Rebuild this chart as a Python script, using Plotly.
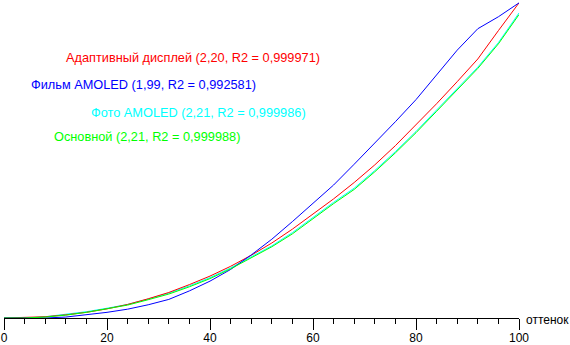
import plotly.graph_objects as go

levels = [0, 4, 8, 12, 16, 20, 24, 28, 32, 36, 40, 44, 48, 52, 56, 60, 64, 68, 72, 76, 80, 84, 88, 92, 96, 100]

adaptive = [0, 0.1, 0.4, 1.0, 1.8, 2.9, 4.3, 6.1, 8.1, 10.6, 13.3, 16.4, 19.9, 23.8, 28.2, 33.0, 37.8, 43.0, 48.6, 54.7, 61.2, 68.0, 75.0, 82.2, 91.2, 100]
film = [0, 0, 0, 0.3, 1.0, 1.8, 2.8, 4.2, 5.9, 8.6, 11.7, 15.4, 20.0, 25.0, 30.6, 36.4, 42.2, 48.8, 55.4, 62.3, 69.3, 77.1, 85.0, 91.8, 95.6, 100]
photo = [0, 0, 0.4, 1.1, 2.0, 3.1, 4.3, 6.0, 7.9, 10.2, 12.8, 15.9, 19.3, 22.9, 27.1, 32.0, 36.7, 41.2, 46.8, 52.8, 59.2, 66.0, 72.8, 79.6, 87.4, 96.8]
main = [0, 0, 0.3, 0.9, 1.8, 2.9, 4.1, 5.8, 7.6, 9.9, 12.5, 15.6, 19.0, 22.6, 26.7, 31.6, 36.3, 40.8, 46.4, 52.4, 58.8, 65.6, 72.4, 79.2, 87.0, 96.3]

labels = [
    ("Адаптивный дисплей (2,20, R2 = 0,999971)", "#ff0000"),
    ("Фильм AMOLED (1,99, R2 = 0,992581)", "#0000ff"),
    ("Фото AMOLED (2,21, R2 = 0,999986)", "#00ffff"),
    ("Основной (2,21, R2 = 0,999988)", "#00ff00"),
]
label_pos = [(11.65, 82.6), (4.9, 74.0), (16.5, 65.1), (9.3, 57.5)]

tick_vals = [0, 20, 40, 60, 80, 100]
tick_text = ["0", "20", "40", "60", "80", "100"]
x_title = "оттенок"

FONT = "Liberation Sans, Arial, sans-serif"

fig = go.Figure()
for ys, color in [(photo, "#00ffff"), (adaptive, "#ff0000"), (film, "#0000ff"), (main, "#00ff00")]:
    fig.add_trace(go.Scatter(x=levels, y=ys, mode="lines",
                             line=dict(color=color, width=1), hoverinfo="skip"))

annotations = []
for (txt, col), (ax, ay) in zip(labels, label_pos):
    annotations.append(dict(x=ax, y=ay, xref="x", yref="y", text=txt, showarrow=False,
                            xanchor="left", yanchor="middle",
                            font=dict(family=FONT, size=12.75, color=col)))
annotations.append(dict(x=1, y=0, xref="paper", yref="paper", text=x_title, showarrow=False,
                        xanchor="left", yanchor="middle", xshift=5, yshift=-2,
                        font=dict(family=FONT, size=12, color="#000000")))

fig.update_layout(
    width=570, height=345,
    margin=dict(l=4, r=51, t=1, b=27, pad=0, autoexpand=False),
    paper_bgcolor="white", plot_bgcolor="white",
    showlegend=False,
    annotations=annotations,
    xaxis=dict(range=[0, 100], tickmode="array", tickvals=tick_vals, ticktext=tick_text,
               automargin=False,
               ticks="outside", ticklen=11, tickwidth=1, tickcolor="black",
               ticklabelstandoff=-2,
               showline=True, linecolor="black", linewidth=1, showgrid=False, zeroline=False,
               tickfont=dict(family=FONT, size=12, color="black"),
               minor=dict(dtick=4, tick0=0, ticks="outside", ticklen=5, tickwidth=1, tickcolor="black", showgrid=False)),
    yaxis=dict(range=[0, 100.6], visible=False, showgrid=False, zeroline=False, automargin=False),
)

fig.write_html("out.html", config={"displayModeBar": False})
